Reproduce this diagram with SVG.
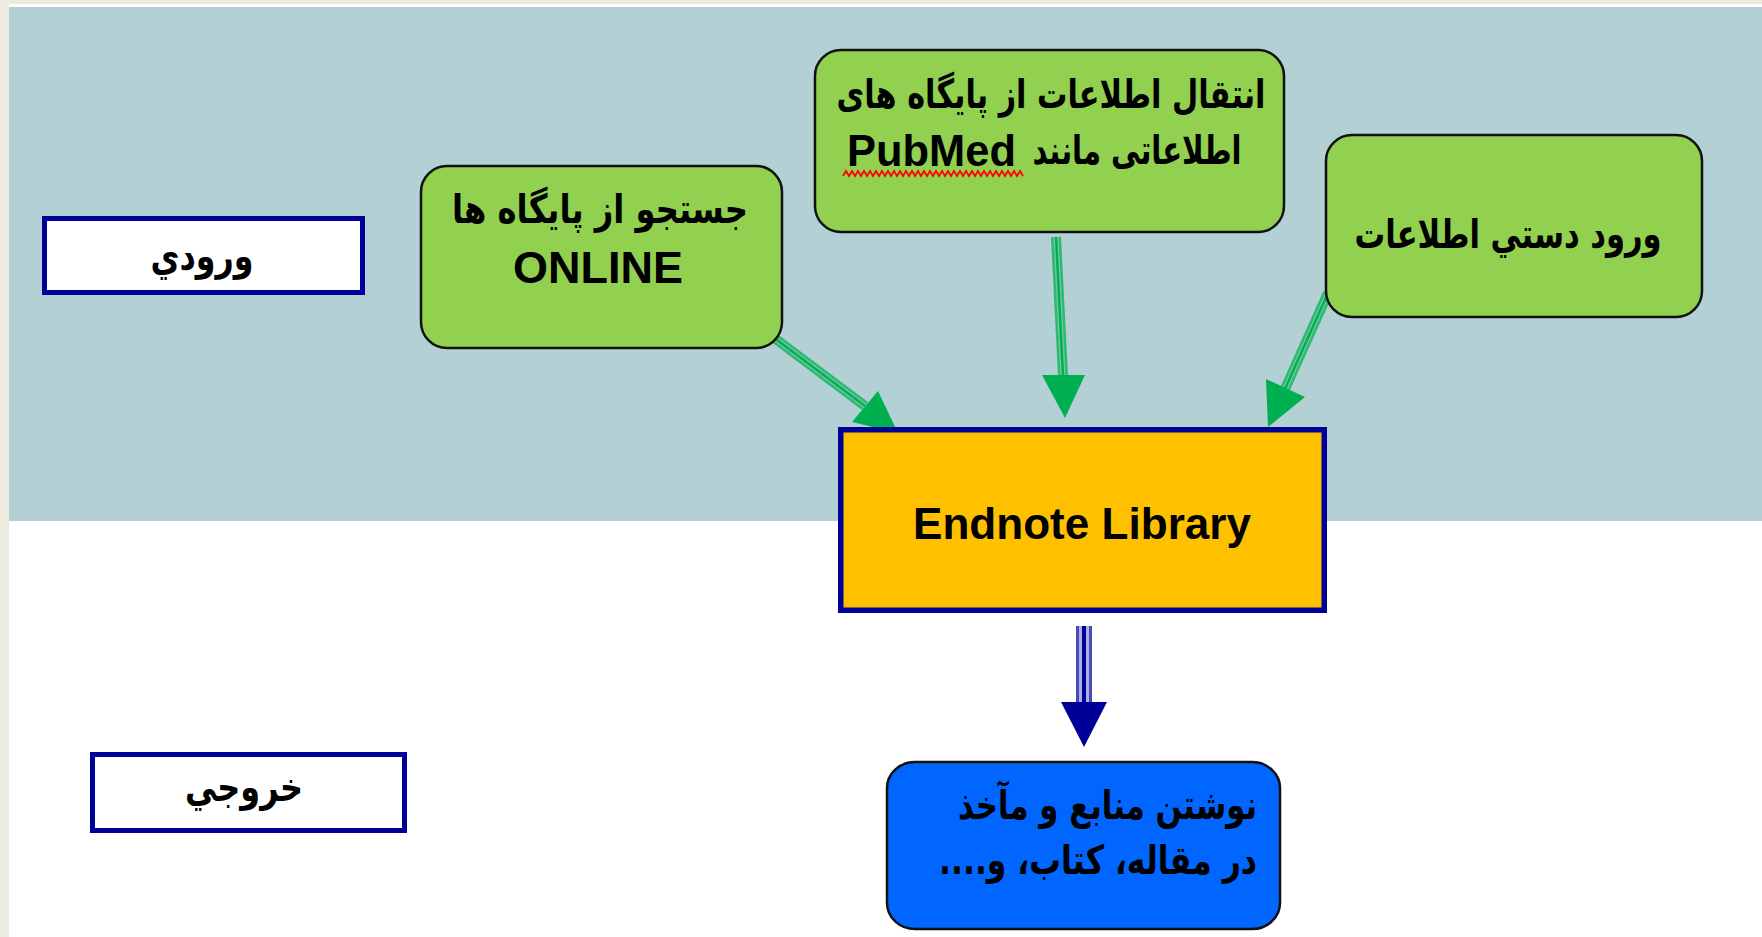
<svg xmlns="http://www.w3.org/2000/svg" width="1762" height="937" viewBox="0 0 1762 937">
<style>
.green{fill:#92D050;stroke:#111;stroke-width:2.5}
.label{fill:#fff;stroke:#000099;stroke-width:5}
.ar{font-family:"DejaVu Sans",sans-serif;font-weight:bold;font-size:40px;fill:#000}
.en{font-family:"Liberation Sans",Arial,sans-serif;font-weight:bold;font-size:44px;fill:#000}
.gs1{stroke:#00B050;stroke-width:10;stroke-opacity:0.75;fill:none}
.gs2{stroke:#B3D1D4;stroke-width:5;stroke-opacity:0.55;fill:none}
.gs3{stroke:#00B050;stroke-width:2.5;fill:none}
.gh{fill:#00B050}
</style>
<rect x="0" y="0" width="1762" height="937" fill="#ECEBE0"/>
<rect x="9" y="4" width="1753" height="933" fill="#fff"/>
<rect x="9" y="7" width="1753" height="514" fill="#B3D1D4"/>

<g id="connectors">
  <g id="c1">
    <path class="gs1" d="M773,337 L865,406"/>
    <path class="gs2" d="M773,337 L865,406"/>
    <path class="gs3" d="M773,337 L865,406"/>
    <polygon class="gh" points="852,422 878,391 898,433"/>
  </g>
  <g id="c2">
    <path class="gs1" d="M1056,237 L1063,376"/>
    <path class="gs2" d="M1056,237 L1063,376"/>
    <path class="gs3" d="M1056,237 L1063,376"/>
    <polygon class="gh" points="1042,375 1085,375 1065,418"/>
  </g>
  <g id="c3">
    <path class="gs1" d="M1328,293 L1285,389"/>
    <path class="gs2" d="M1328,293 L1285,389"/>
    <path class="gs3" d="M1328,293 L1285,389"/>
    <polygon class="gh" points="1266,379 1305,397 1268,427"/>
  </g>
  <g id="c4">
    <path d="M1084,626 L1084,703" stroke="#4a4ab6" stroke-width="16" fill="none"/>
    <path d="M1084,626 L1084,703" stroke="#aeb0e0" stroke-width="10" fill="none"/>
    <path d="M1084,626 L1084,703" stroke="#000099" stroke-width="4" fill="none"/>
    <polygon points="1061,702 1107,702 1084,747" fill="#000099"/>
  </g>
</g>

<g id="input-label">
  <rect class="label" x="44.5" y="218.5" width="318" height="74"/>
  <text class="ar" x="202" y="270" text-anchor="middle" direction="rtl" textLength="103" lengthAdjust="spacingAndGlyphs">ورودي</text>
</g>

<g id="output-label">
  <rect class="label" x="92.5" y="754.5" width="312" height="76"/>
  <text class="ar" x="244" y="801" text-anchor="middle" direction="rtl" textLength="118" lengthAdjust="spacingAndGlyphs">خروجي</text>
</g>

<g id="online">
  <rect class="green" x="421" y="166" width="361" height="182" rx="26" ry="26"/>
  <text class="ar" x="600" y="223" text-anchor="middle" direction="rtl" textLength="296" lengthAdjust="spacingAndGlyphs">جستجو از پایگاه ها</text>
  <text class="en" x="598" y="283" text-anchor="middle" textLength="170" lengthAdjust="spacingAndGlyphs">ONLINE</text>
</g>

<g id="pubmed">
  <rect class="green" x="815" y="50" width="469" height="182" rx="26" ry="26"/>
  <text class="ar" x="1051" y="108" text-anchor="middle" direction="rtl" textLength="429" lengthAdjust="spacingAndGlyphs">انتقال اطلاعات از پایگاه های</text>
  <text class="ar" x="1137" y="164" text-anchor="middle" direction="rtl" textLength="209" lengthAdjust="spacingAndGlyphs">اطلاعاتی مانند</text>
  <text class="en" x="847" y="166" textLength="169" lengthAdjust="spacingAndGlyphs">PubMed</text>
  <polyline points="843,176 846,171 849,176 852,171 855,176 858,171 861,176 864,171 867,176 870,171 873,176 876,171 879,176 882,171 885,176 888,171 891,176 894,171 897,176 900,171 903,176 906,171 909,176 912,171 915,176 918,171 921,176 924,171 927,176 930,171 933,176 936,171 939,176 942,171 945,176 948,171 951,176 954,171 957,176 960,171 963,176 966,171 969,176 972,171 975,176 978,171 981,176 984,171 987,176 990,171 993,176 996,171 999,176 1002,171 1005,176 1008,171 1011,176 1014,171 1017,176 1020,171 1023,176" fill="none" stroke="#FF0000" stroke-width="1.8"/>
</g>

<g id="manual">
  <rect class="green" x="1326" y="135" width="376" height="182" rx="26" ry="26"/>
  <text class="ar" x="1508" y="248" text-anchor="middle" direction="rtl" textLength="307" lengthAdjust="spacingAndGlyphs">ورود دستي اطلاعات</text>
</g>

<g id="endnote">
  <rect x="840.75" y="429.75" width="483.5" height="180.5" fill="#FFC000" stroke="#000099" stroke-width="5.5"/>
  <text class="en" x="1082" y="539" text-anchor="middle" textLength="338" lengthAdjust="spacingAndGlyphs">Endnote Library</text>
</g>

<g id="output">
  <rect x="887" y="762" width="393" height="167" rx="28" ry="26" fill="#0066FF" stroke="#111" stroke-width="2.5"/>
  <text class="ar" x="1257" y="819" text-anchor="start" direction="rtl" textLength="299" lengthAdjust="spacingAndGlyphs">نوشتن منابع و مآخذ</text>
  <text class="ar" x="1257" y="874" text-anchor="start" direction="rtl" textLength="318" lengthAdjust="spacingAndGlyphs">در مقاله، کتاب، و....</text>
</g>
</svg>
